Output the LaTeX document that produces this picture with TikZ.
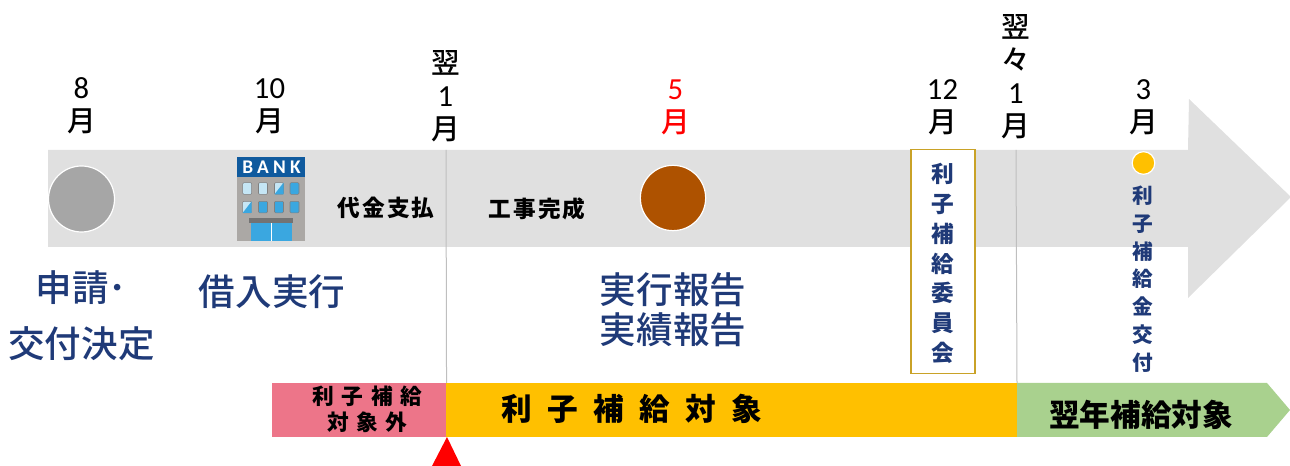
\documentclass[tikz,border=0pt]{standalone}
\usepackage{fontspec}
\setmainfont{Noto Sans CJK JP}
\newfontfamily\latinf{Carlito}
\newfontfamily\medf{Noto Sans CJK JP Medium}
\newcommand{\dg}[1]{{\latinf\fontsize{23}{24.75}\selectfont #1}}
\definecolor{band}{HTML}{E0E0E0}
\definecolor{rule}{HTML}{BFBFBF}
\definecolor{navy}{HTML}{1F3A78}
\definecolor{pinkbar}{HTML}{ED7589}
\definecolor{amber}{HTML}{FFC000}
\definecolor{greenbar}{HTML}{A9D18E}
\definecolor{brownc}{HTML}{AE5200}
\definecolor{greyc}{HTML}{A6A6A6}
\definecolor{boxedge}{HTML}{C9A227}
\definecolor{bankblue}{HTML}{0F5A9E}
\definecolor{bankwall}{HTML}{ABA8A5}
\definecolor{winlight}{HTML}{C5E6F5}
\definecolor{windark}{HTML}{3AA7E0}
\tikzset{
  x=0.75pt,y=-0.75pt,
  txt/.style={inner sep=0pt,outer sep=0pt,align=center},
  month/.style={txt,font=\medf\fontsize{21.5}{24.75}\selectfont},
  bigblue/.style={txt,text=navy,font=\medf\fontsize{27.4}{33}\selectfont},
  smallbold/.style={txt,font=\fontsize{17}{20}\selectfont\bfseries\addfontfeature{LetterSpace=9}},
  rulel/.style={draw=rule,line width=0.75pt},
  disc/.style={circle,draw=white,line width=0.9pt,inner sep=0pt},
  winw/.style={draw=gray,line width=0.4pt,rounded corners=0.8pt},
}
\begin{document}
\begin{tikzpicture}
\useasboundingbox (0,0) rectangle (1290,466);
% main arrow
\fill[band] (48,150) -- (1188,150) -- (1189,99) -- (1291,197) -- (1188,298) -- (1188,247) -- (48,247) -- cycle;
% bars
\node[fill=pinkbar,minimum width=130.5pt,minimum height=40.5pt,inner sep=0pt,anchor=north west] (pink) at (272,383) {};
\node[fill=amber,minimum width=428.25pt,minimum height=40.5pt,inner sep=0pt,anchor=north west] (orange) at (446,383) {};
\fill[greenbar] (1017,383) coordinate (gtl) -- (1267,383) -- (1290,410) -- (1267,437) -- (1017,437) -- cycle;
% vertical rules
\coordinate (r1t) at (446,150);
\coordinate (r2t) at (1016,150);
\coordinate (r2b) at (1017,383);
\draw[rulel] (r1t) -- (pink.north east);
\draw[rulel] (r2t) -- (r2b);
% red marker
\fill[red] (447,437) -- (461,466) -- (432,466) -- cycle;
% discs
\node[disc,fill=greyc,minimum size=49.5pt] (d8) at (81.5,199) {};
\node[disc,fill=brownc,minimum size=49pt] (d5) at (673,198) {};
\node[disc,fill=amber,minimum size=17pt] (d3) at (1143.5,163) {};
% bank
\fill[bankwall] (237,177) rectangle (305,241);
\fill[bankblue] (237,157) rectangle (305,177);
\node[txt,text=white,font=\latinf\bfseries\fontsize{14.5}{14}\selectfont\addfontfeature{LetterSpace=22}] (bank) at (271.5,167) {BANK};
\foreach \x/\c in {242.7/winlight,258.5/winlight,274.5/winlight,290/windark}{
  \filldraw[fill=\c,winw] (\x,182.7) rectangle ++(9,11.6);}
\foreach \x/\c in {242.7/winlight,258.5/windark,274.5/windark,290/windark}{
  \filldraw[fill=\c,winw] (\x,201.3) rectangle ++(9,11.6);}
\fill[windark] (283.5,182.7) -- (274.5,194.3) -- (283.5,194.3) -- cycle;
\fill[windark] (251.7,201.3) -- (242.7,212.9) -- (251.7,212.9) -- cycle;
\fill[black!55] (249,218) rectangle (293,223);
\fill[windark] (251,223) rectangle (292,241);
\draw[white,line width=0.5pt] (271.5,223) -- (271.5,241);
% months
\node[month] (m8) at (81.5,105.5) {\dg{8}\\月};
\node[month] (m10) at (269.5,106.5) {\dg{10}\\月};
\node[month] (m1) at (445.5,96.5) {翌\\\dg{1}\\月};
\node[month,text=red] (m5) at (675.5,107) {\dg{5}\\月};
\node[month] (m12) at (942.5,107) {\dg{12}\\月};
\node[month] (m1b) at (1016,77) {翌\\々\\\dg{1}\\月};
\node[month] (m3) at (1143.5,107.5) {\dg{3}\\月};
% bank/paid
\node[smallbold] (pay) at (386,208) {代金支払};
\node[smallbold] (done) at (537,209) {工事完成};
% blue labels
\node[bigblue,font=\medf\fontsize{27.4}{42}\selectfont] (apply) at (81.5,316) {申請･\\交付決定};
\node[bigblue] (loan) at (272,292) {借入実行};
\node[bigblue,font=\medf\fontsize{27.4}{30}\selectfont] (report) at (673,310) {実行報告\\実績報告};
% committee box
\node[draw=boxedge,fill=white,line width=0.9pt,minimum width=48pt,minimum height=168.5pt,inner sep=0pt] (committee) at (943,261.5) {};
\node[txt,text=navy,font=\fontsize{17}{22.3}\selectfont\bfseries] (committeetext) at (943,263.5) {利\\子\\補\\給\\委\\員\\会};
\node[txt,text=navy,font=\fontsize{15.5}{20.85}\selectfont\bfseries] (grant) at (1143,279) {利\\子\\補\\給\\金\\交\\付};
% bar labels
\node[txt,font=\fontsize{16.3}{19.5}\selectfont\bfseries\addfontfeature{LetterSpace=35}] (outl) at (367.5,409) {利子補給\\対象外};
\node[txt,font=\fontsize{23}{23}\selectfont\bfseries\addfontfeature{LetterSpace=50}] (inl) at (632,409) {利子補給対象};
\node[txt,font=\fontsize{23}{23}\selectfont\bfseries] (nextl) at (1141,415) {翌年補給対象};
\end{tikzpicture}
\end{document}
